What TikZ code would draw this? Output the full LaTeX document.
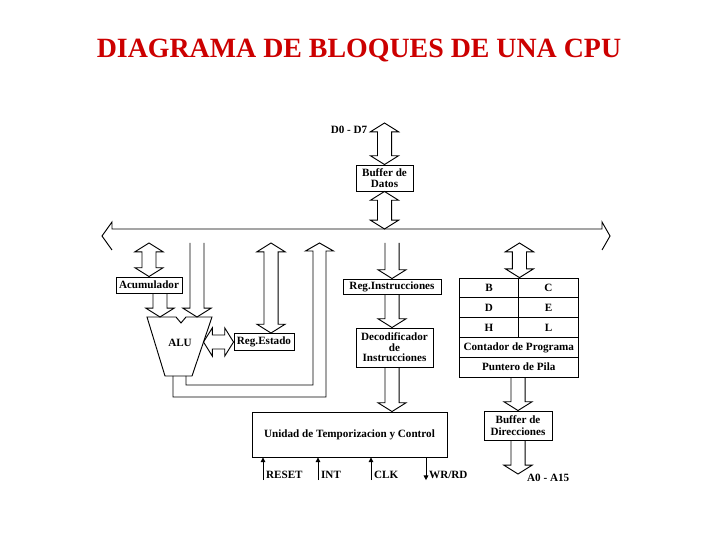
\documentclass[tikz,border=0pt]{standalone}
\usepackage{fontspec}
\setmainfont{Liberation Serif}
\usetikzlibrary{calc,arrows.meta}
\definecolor{rojotitulo}{RGB}{204,0,0}

% medidas de las flechas huecas
\newcommand{\anchoTubo}{6pt}
\newcommand{\anchoPunta}{12pt}
\newcommand{\largoPunta}{7.5pt}

% flecha hueca vertical con dos puntas (#1 arriba, #2 abajo)
\newcommand{\flechaDoble}[2]{%
  \draw[hueca] let \p1=#1, \p2=#2 in
    (\x1,\y1) -- (\x1+\anchoPunta,\y1-\largoPunta) -- (\x1+\anchoTubo,\y1-\largoPunta)
    -- (\x1+\anchoTubo,\y2+\largoPunta) -- (\x1+\anchoPunta,\y2+\largoPunta) -- (\x1,\y2)
    -- (\x1-\anchoPunta,\y2+\largoPunta) -- (\x1-\anchoTubo,\y2+\largoPunta)
    -- (\x1-\anchoTubo,\y1-\largoPunta) -- (\x1-\anchoPunta,\y1-\largoPunta) -- cycle;}

% flecha hueca hacia abajo (#1 arriba, #2 punta)
\newcommand{\flechaBaja}[2]{%
  \draw[hueca] let \p1=#1, \p2=#2 in
    (\x1-\anchoTubo,\y1) -- (\x1-\anchoTubo,\y2+\largoPunta) -- (\x1-\anchoPunta,\y2+\largoPunta)
    -- (\x1,\y2) -- (\x1+\anchoPunta,\y2+\largoPunta) -- (\x1+\anchoTubo,\y2+\largoPunta)
    -- (\x1+\anchoTubo,\y1);}

\begin{document}
\begin{tikzpicture}[
      x=0.03cm, y=-0.03cm,
      titulo/.style={font=\bfseries\fontsize{23.8}{28}\selectfont, text=rojotitulo, inner sep=0pt},
      caja/.style={draw, fill=white, line width=0.8pt, align=center, inner sep=0pt,
                   font=\bfseries\fontsize{9.5}{10}\selectfont},
      reg/.style={caja, minimum width=1.8cm, minimum height=0.594cm},
      fila/.style={caja, minimum width=3.57cm, minimum height=0.594cm},
      etiqueta/.style={font=\bfseries\fontsize{9.5}{10}\selectfont, inner xsep=2.5pt, inner ysep=1pt},
      hueca/.style={draw, line width=0.8pt, line join=miter},
      senal/.style={-{Triangle[length=4pt,width=4pt]}, line width=0.8pt}
    ]
    \useasboundingbox (0,0) rectangle (720,540);
    \node[titulo, anchor=base] (tit) at (359,58) {DIAGRAMA DE BLOQUES DE UNA CPU};

    % bus de datos
    \coordinate (busL) at (102,236);
    \coordinate (busR) at (610,236);
    \coordinate (busT) at (0,229);
    \coordinate (busB) at (0,243);
    \draw[hueca] (112,250) -- (busL) -- (112,222) -- (112,229) -- (602,229)
      -- (602,222) -- (busR) -- (602,250);

    % bloques
    \node[etiqueta] (dat) at (349,130) {D0 - D7};
    \node[caja, minimum width=1.71cm, minimum height=0.78cm] (bufd) at (384.5,178) {Buffer de\\Datos};
    \node[caja, minimum width=1.98cm, minimum height=0.48cm] (acu) at (149,285) {Acumulador};
    \node[caja, minimum width=1.8cm, minimum height=0.51cm] (regest) at (264,342) {Reg.Estado};
    \node[caja, minimum width=2.94cm, minimum height=0.45cm] (regins) at (392,286.5) {Reg.Instrucciones};
    \node[caja, minimum width=2.31cm, minimum height=1.17cm,
          font=\bfseries\fontsize{9.5}{9}\selectfont] (dec) at (394.5,347.5) {Decodificador\\de\\Instrucciones};
    \node[caja, minimum width=5.85cm, minimum height=1.35cm] (utc) at (349.5,434.5) {Unidad de Temporizacion y Control};
    \node[caja, minimum width=2.04cm, minimum height=0.87cm] (bufdir) at (518,425.5) {Buffer de\\Direcciones};
    \node[etiqueta, anchor=west] (dir) at (524,478) {A0 - A15};

    % registros
    \node[reg] (rb) at (489,288) {B};
    \node[reg] (rc) at (548.5,288) {C};
    \node[reg] (rd) at (489,307.8) {D};
    \node[reg] (re) at (548.5,307.8) {E};
    \node[reg] (rh) at (489,327.6) {H};
    \node[reg] (rl) at (548.5,327.6) {L};
    \node[fila] (pc) at (518.75,347.4) {Contador de Programa};
    \node[fila] (sp) at (518.75,367.2) {Puntero de Pila};

    % ALU
    \coordinate (aluE1) at (160,317);
    \coordinate (aluE2) at (197,317);
    \coordinate (aluR) at (203.5,342);
    \coordinate (aluO1) at (173,376);
    \coordinate (aluO2) at (186,376);
    \draw[hueca] (147,317) -- (176,317) -- (181,323) -- (186,317) -- (212,317)
      -- (192,376) -- (165,376) -- cycle;
    \node[caja, draw=none, fill=none] (alu) at (180,343) {ALU};

    % flechas huecas
    \coordinate (finDat) at (384.5,123);
    \coordinate (estX) at (271,0);
    \coordinate (finDir) at (518,474);
    \flechaDoble{(finDat)}{(bufd.north)}
    \flechaDoble{(bufd.south)}{(busT -| bufd.south)}
    \flechaDoble{(busB -| acu.north)}{(acu.north)}
    \flechaBaja{(acu.south -| aluE1)}{(aluE1)}
    \flechaBaja{(busB -| aluE2)}{(aluE2)}
    \flechaDoble{(busB -| estX)}{(regest.north -| estX)}
    \draw[hueca] let \p1=(aluR), \p2=(regest.west) in
      (\x1,\y1) -- (\x1+\largoPunta,\y1+\anchoPunta) -- (\x1+\largoPunta,\y1+\anchoTubo)
      -- (\x2-\largoPunta,\y1+\anchoTubo) -- (\x2-\largoPunta,\y1+\anchoPunta) -- (\x2,\y1)
      -- (\x2-\largoPunta,\y1-\anchoPunta) -- (\x2-\largoPunta,\y1-\anchoTubo)
      -- (\x1+\largoPunta,\y1-\anchoTubo) -- (\x1+\largoPunta,\y1-\anchoPunta) -- cycle;
    \draw[hueca] (aluO1) -- (173,397) -- (326,397) -- (326,251) -- (333.5,251)
      -- (319.5,243) -- (305.5,251) -- (313,251) -- (313,385) -- (186,385) -- (aluO2);
    \flechaBaja{(busB -| regins.north)}{(regins.north)}
    \flechaBaja{(regins.south)}{(regins.south |- dec.north)}
    \flechaBaja{(dec.south -| regins.south)}{(regins.south |- utc.north)}
    \flechaDoble{(busB -| rb.north east)}{(rb.north east)}
    \flechaBaja{(sp.south -| bufdir.north)}{(bufdir.north)}
    \flechaBaja{(bufdir.south)}{(finDir)}

    % senales de control
    \node[etiqueta, anchor=west] (rst) at (263,475) {RESET};
    \node[etiqueta, anchor=west] (int) at (318,475) {INT};
    \node[etiqueta, anchor=west] (clk) at (371,475) {CLK};
    \node[etiqueta, anchor=west] (wr) at (426,475) {WR/RD};
    \draw[senal] (rst.south west) -- (rst.south west |- utc.south);
    \draw[senal] (int.south west) -- (int.south west |- utc.south);
    \draw[senal] (clk.south west) -- (clk.south west |- utc.south);
    \draw[senal] (wr.south west |- utc.south) -- (wr.south west);
  \end{tikzpicture}
\end{document}
